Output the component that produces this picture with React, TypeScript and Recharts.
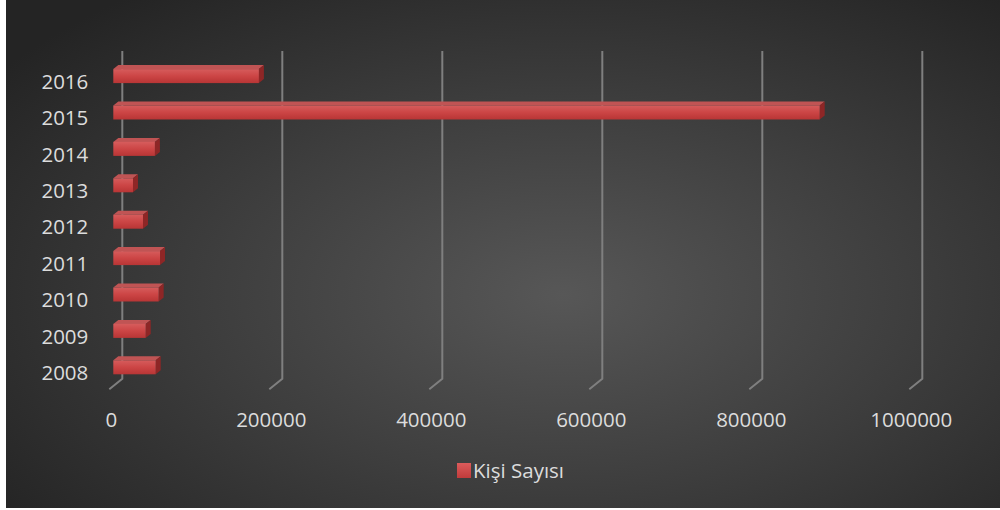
import React from 'react';
import { BarChart, Bar, XAxis, YAxis, CartesianGrid, Legend } from 'recharts';

const years = ['2016', '2015', '2014', '2013', '2012', '2011', '2010', '2009', '2008'];
const kisiSayisi = [182000, 883000, 52000, 24600, 37100, 58400, 56700, 40500, 53000];
const xTicks = [0, 200000, 400000, 600000, 800000, 1000000];
const seriesName = 'Kişi Sayısı';

const data = years.map((y, i) => ({ year: y, value: kisiSayisi[i] }));

const FONT = "'Open Sans', 'Noto Sans', sans-serif";
const TEXT = '#dcdcdc';
const DX = 5;
const DY = 4;

const Bar3D = (props: any) => {
  const { x, y, width, height } = props;
  if (width == null || width <= 0) return null;
  return (
    <g>
      <polygon
        points={`${x},${y} ${x + DX},${y - DY} ${x + width + DX},${y - DY} ${x + width},${y}`}
        fill="#c05454"
      />
      <polygon
        points={`${x + width},${y} ${x + width + DX},${y - DY} ${x + width + DX},${y + height - DY} ${x + width},${y + height}`}
        fill="#8e2626"
      />
      <rect x={x} y={y} width={width} height={height} fill="url(#barFront)" />
    </g>
  );
};

const gridLine = (props: any) => {
  const { x1, y1, y2, index } = props;
  const d = `M${x1 + 9},${y1 - 7} L${x1 + 9},${y2 - 7} L${x1 - 4},${y2 + 3.6}`;
  return <path key={`g-${index}`} d={d} stroke="#7f7f7f" strokeWidth={2} fill="none" />;
};

const XTick = (props: any) => {
  const { x, y, payload } = props;
  return (
    <text x={x - 2} y={y} dy={41} textAnchor="middle" fill={TEXT} fontFamily={FONT} fontSize={20.5}>
      {payload.value}
    </text>
  );
};

const YTick = (props: any) => {
  const { x, y, payload } = props;
  return (
    <text x={x} y={y} dx={-25} dy={12.5} textAnchor="end" fill={TEXT} fontFamily={FONT} fontSize={20.5}>
      {payload.value}
    </text>
  );
};

const LegendContent = () => (
  <div style={{ display: 'flex', alignItems: 'center', height: 24, fontFamily: FONT, fontSize: 20.5, color: TEXT }}>
    <div
      style={{
        width: 14,
        height: 15,
        background: 'linear-gradient(#dc5b5b, #c13b3b)',
        marginRight: 2,
      }}
    />
    <span>{seriesName}</span>
  </div>
);

export default function App() {
  return (
    <div
      style={{
        position: 'absolute',
        left: 6,
        top: 0,
        width: 994,
        height: 508,
        background: 'radial-gradient(ellipse 70% 75% at 56% 58%, #575757 0%, #3e3e3e 50%, #242424 100%)',
      }}
    >
      <BarChart
        width={994}
        height={508}
        data={data}
        layout="vertical"
        margin={{ top: 58.1, right: 86.7, left: 7.3, bottom: 58.3 }}
        barCategoryGap={0}
      >
        <defs>
          <linearGradient id="barFront" x1="0" y1="0" x2="0" y2="1">
            <stop offset="0%" stopColor="#d65c5c" />
            <stop offset="50%" stopColor="#cc4545" />
            <stop offset="100%" stopColor="#b83535" />
          </linearGradient>
        </defs>
        <CartesianGrid horizontal={false} vertical={gridLine} />
        <XAxis
          type="number"
          domain={[0, 1000000]}
          ticks={xTicks}
          axisLine={false}
          tickLine={false}
          tickSize={0}
          tickMargin={0}
          height={40}
          tick={<XTick />}
          interval={0}
        />
        <YAxis
          type="category"
          dataKey="year"
          axisLine={false}
          tickLine={false}
          tickSize={0}
          tickMargin={0}
          width={100}
          tick={<YTick />}
          interval={0}
        />
        <Legend
          content={<LegendContent />}
          wrapperStyle={{ left: 451, top: 458, bottom: 'auto', width: 'auto', height: 24 }}
        />
        <Bar
          dataKey="value"
          name={seriesName}
          barSize={14}
          fill="#c94444"
          shape={<Bar3D />}
          isAnimationActive={false}
        />
      </BarChart>
    </div>
  );
}
